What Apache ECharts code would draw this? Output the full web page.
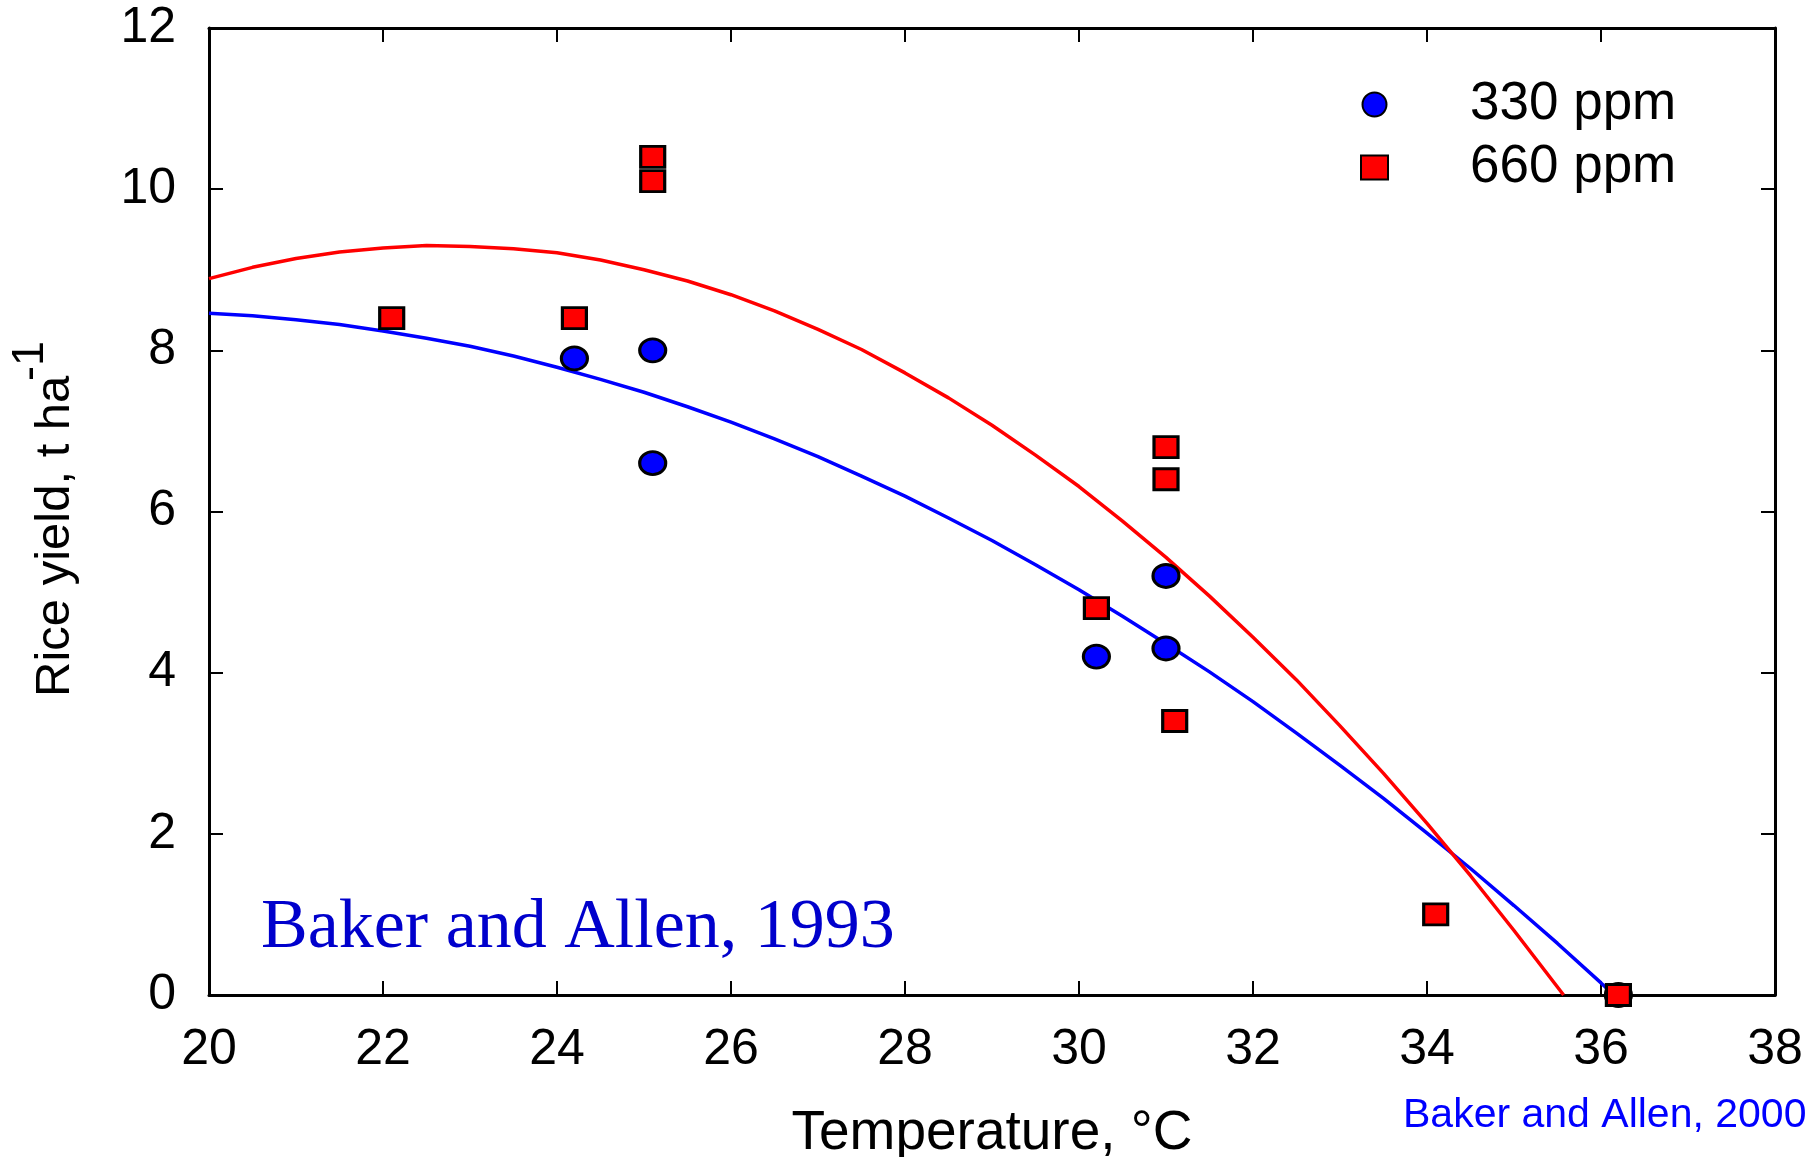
<!DOCTYPE html>
<html>
<head>
<meta charset="utf-8">
<script src="https://cdn.jsdelivr.net/npm/echarts@6/dist/echarts.min.js"></script>
<style>
html,body{margin:0;padding:0;background:#fff;}
#chart{width:1819px;height:1157px;}
</style>
</head>
<body>
<div id="chart"></div>
<script>
// ---- data ----
const xMin = 20, xMax = 38, xStep = 2;
const yMin = 0, yMax = 12, yStep = 2;

const temp330  = [24.2, 25.1, 25.1, 30.2, 31.0, 31.0, 36.2];
const yield330 = [7.9, 8.0, 6.6, 4.2, 5.2, 4.3, 0.0];

const temp660  = [22.1, 24.2, 25.1, 25.1, 30.2, 31.0, 31.0, 31.1, 34.1, 36.2];
const yield660 = [8.4, 8.4, 10.4, 10.1, 4.8, 6.8, 6.4, 3.4, 1.0, 0.0];

// fitted curves, values
const curveTemp330  = [20, 20.5, 21, 21.5, 22, 22.5, 23, 23.5, 24, 24.5, 25, 25.5, 26, 26.5, 27, 27.5, 28, 28.5,
                       29, 29.5, 30, 30.5, 31, 31.5, 32, 32.5, 33, 33.5, 34, 34.5, 35, 35.5, 36, 36.15];
const curveYield330 = [8.46, 8.43, 8.38, 8.32, 8.24, 8.15, 8.05, 7.93, 7.79, 7.64, 7.48, 7.30, 7.11, 6.90, 6.68, 6.44, 6.19, 5.92,
                       5.64, 5.34, 5.03, 4.70, 4.36, 4.01, 3.64, 3.25, 2.85, 2.44, 2.01, 1.57, 1.11, 0.64, 0.15, 0];

const curveTemp660  = [20, 20.5, 21, 21.5, 22, 22.5, 23, 23.5, 24, 24.5, 25, 25.5, 26, 26.5, 27, 27.5, 28, 28.5,
                       29, 29.5, 30, 30.5, 31, 31.5, 32, 32.5, 33, 33.5, 34, 34.5, 35, 35.57];
const curveYield660 = [8.89, 9.03, 9.14, 9.22, 9.27, 9.30, 9.29, 9.26, 9.21, 9.12, 9.00, 8.86, 8.69, 8.49, 8.26, 8.01, 7.72, 7.41,
                       7.07, 6.70, 6.31, 5.88, 5.43, 4.95, 4.44, 3.91, 3.34, 2.75, 2.13, 1.48, 0.80, 0];

const seriesNames = ['330 ppm', '660 ppm'];
const xTitle = 'Temperature, °C';
const yTitleMain = 'Rice yield, t ha';
const yTitleSup = '-1';
const noteInPlot = 'Baker and Allen, 1993';
const sourceNote = 'Baker and Allen, 2000';

const zip = (a, b) => a.map((v, i) => [v, b[i]]);
const FONT = 'Liberation Sans, Arial, sans-serif';

const axisCommon = {
  axisLine: {show: true, onZero: false, lineStyle: {color: '#000', width: 3}},
  axisTick: {show: true, inside: true, length: 14, lineStyle: {color: '#000', width: 2}},
  splitLine: {show: false}
};

const chart = echarts.init(document.getElementById('chart'), null, {renderer: 'canvas'});
chart.setOption({
  backgroundColor: '#fff',
  animation: false,
  grid: {left: 209, right: 44, top: 28, bottom: 162, containLabel: false, outerBoundsMode: 'none'},
  xAxis: [
    Object.assign({
      type: 'value', position: 'bottom', min: xMin, max: xMax, interval: xStep,
      name: xTitle, nameLocation: 'middle', nameGap: 111, nameMoveOverlap: false,
      nameTextStyle: {fontFamily: FONT, fontSize: 55, color: '#000'},
      axisLabel: {show: true, margin: 30, fontFamily: FONT, fontSize: 50, color: '#000'}
    }, axisCommon),
    Object.assign({
      type: 'value', position: 'top', min: xMin, max: xMax, interval: xStep,
      axisLabel: {show: false}
    }, axisCommon)
  ],
  yAxis: [
    Object.assign({
      type: 'value', position: 'left', min: yMin, max: yMax, interval: yStep,
      axisLabel: {show: true, margin: 33, fontFamily: FONT, fontSize: 50, color: '#000'}
    }, axisCommon),
    Object.assign({
      type: 'value', position: 'right', min: yMin, max: yMax, interval: yStep,
      axisLabel: {show: false}
    }, axisCommon)
  ],
  legend: {
    data: seriesNames,
    orient: 'vertical',
    left: 1360, top: 78,
    padding: 0,
    itemGap: 10,
    itemWidth: 27, itemHeight: 24,
    symbolKeepAspect: false,
    textStyle: {fontFamily: FONT, fontSize: 53, lineHeight: 50, color: '#000', padding: [0, 0, 0, 77]}
  },
  series: [
    {
      name: 'fit 330', type: 'line', z: 1,
      data: zip(curveTemp330, curveYield330),
      showSymbol: false, smooth: false, clip: true,
      lineStyle: {color: '#0000ff', width: 3.5},
      silent: true
    },
    {
      name: 'fit 660', type: 'line', z: 1,
      data: zip(curveTemp660, curveYield660),
      showSymbol: false, smooth: false, clip: true,
      lineStyle: {color: '#ff0000', width: 3.5},
      silent: true
    },
    {
      name: seriesNames[0], type: 'scatter', z: 3, clip: false,
      symbol: 'circle', symbolSize: [26, 23],
      data: zip(temp330, yield330),
      itemStyle: {color: '#0000ff', borderColor: '#000', borderWidth: 3, opacity: 1}
    },
    {
      name: seriesNames[1], type: 'scatter', z: 4, clip: false,
      symbol: 'rect', symbolSize: [24, 21],
      data: zip(temp660, yield660),
      itemStyle: {color: '#ff0000', borderColor: '#000', borderWidth: 3, opacity: 1}
    }
  ],
  graphic: [
    {
      type: 'text', left: 261, top: 894, z: 10,
      style: {text: noteInPlot, fill: '#0000cc', font: '70px "Liberation Serif", "Times New Roman", serif'}
    },
    {
      type: 'text', left: 1403, top: 1095, z: 10,
      style: {text: sourceNote, fill: '#0000ff', font: '41px "Liberation Sans", Arial, sans-serif'}
    },
    {
      type: 'text', x: 55, y: 697, rotation: Math.PI / 2, z: 10,
      style: {text: yTitleMain, fill: '#000', font: '49px "Liberation Sans", Arial, sans-serif',
              align: 'left', verticalAlign: 'middle'}
    },
    {
      type: 'text', x: 31, y: 381, rotation: Math.PI / 2, z: 10,
      style: {text: yTitleSup, fill: '#000', font: '45px "Liberation Sans", Arial, sans-serif',
              align: 'left', verticalAlign: 'middle'}
    }
  ]
});
</script>
</body>
</html>
